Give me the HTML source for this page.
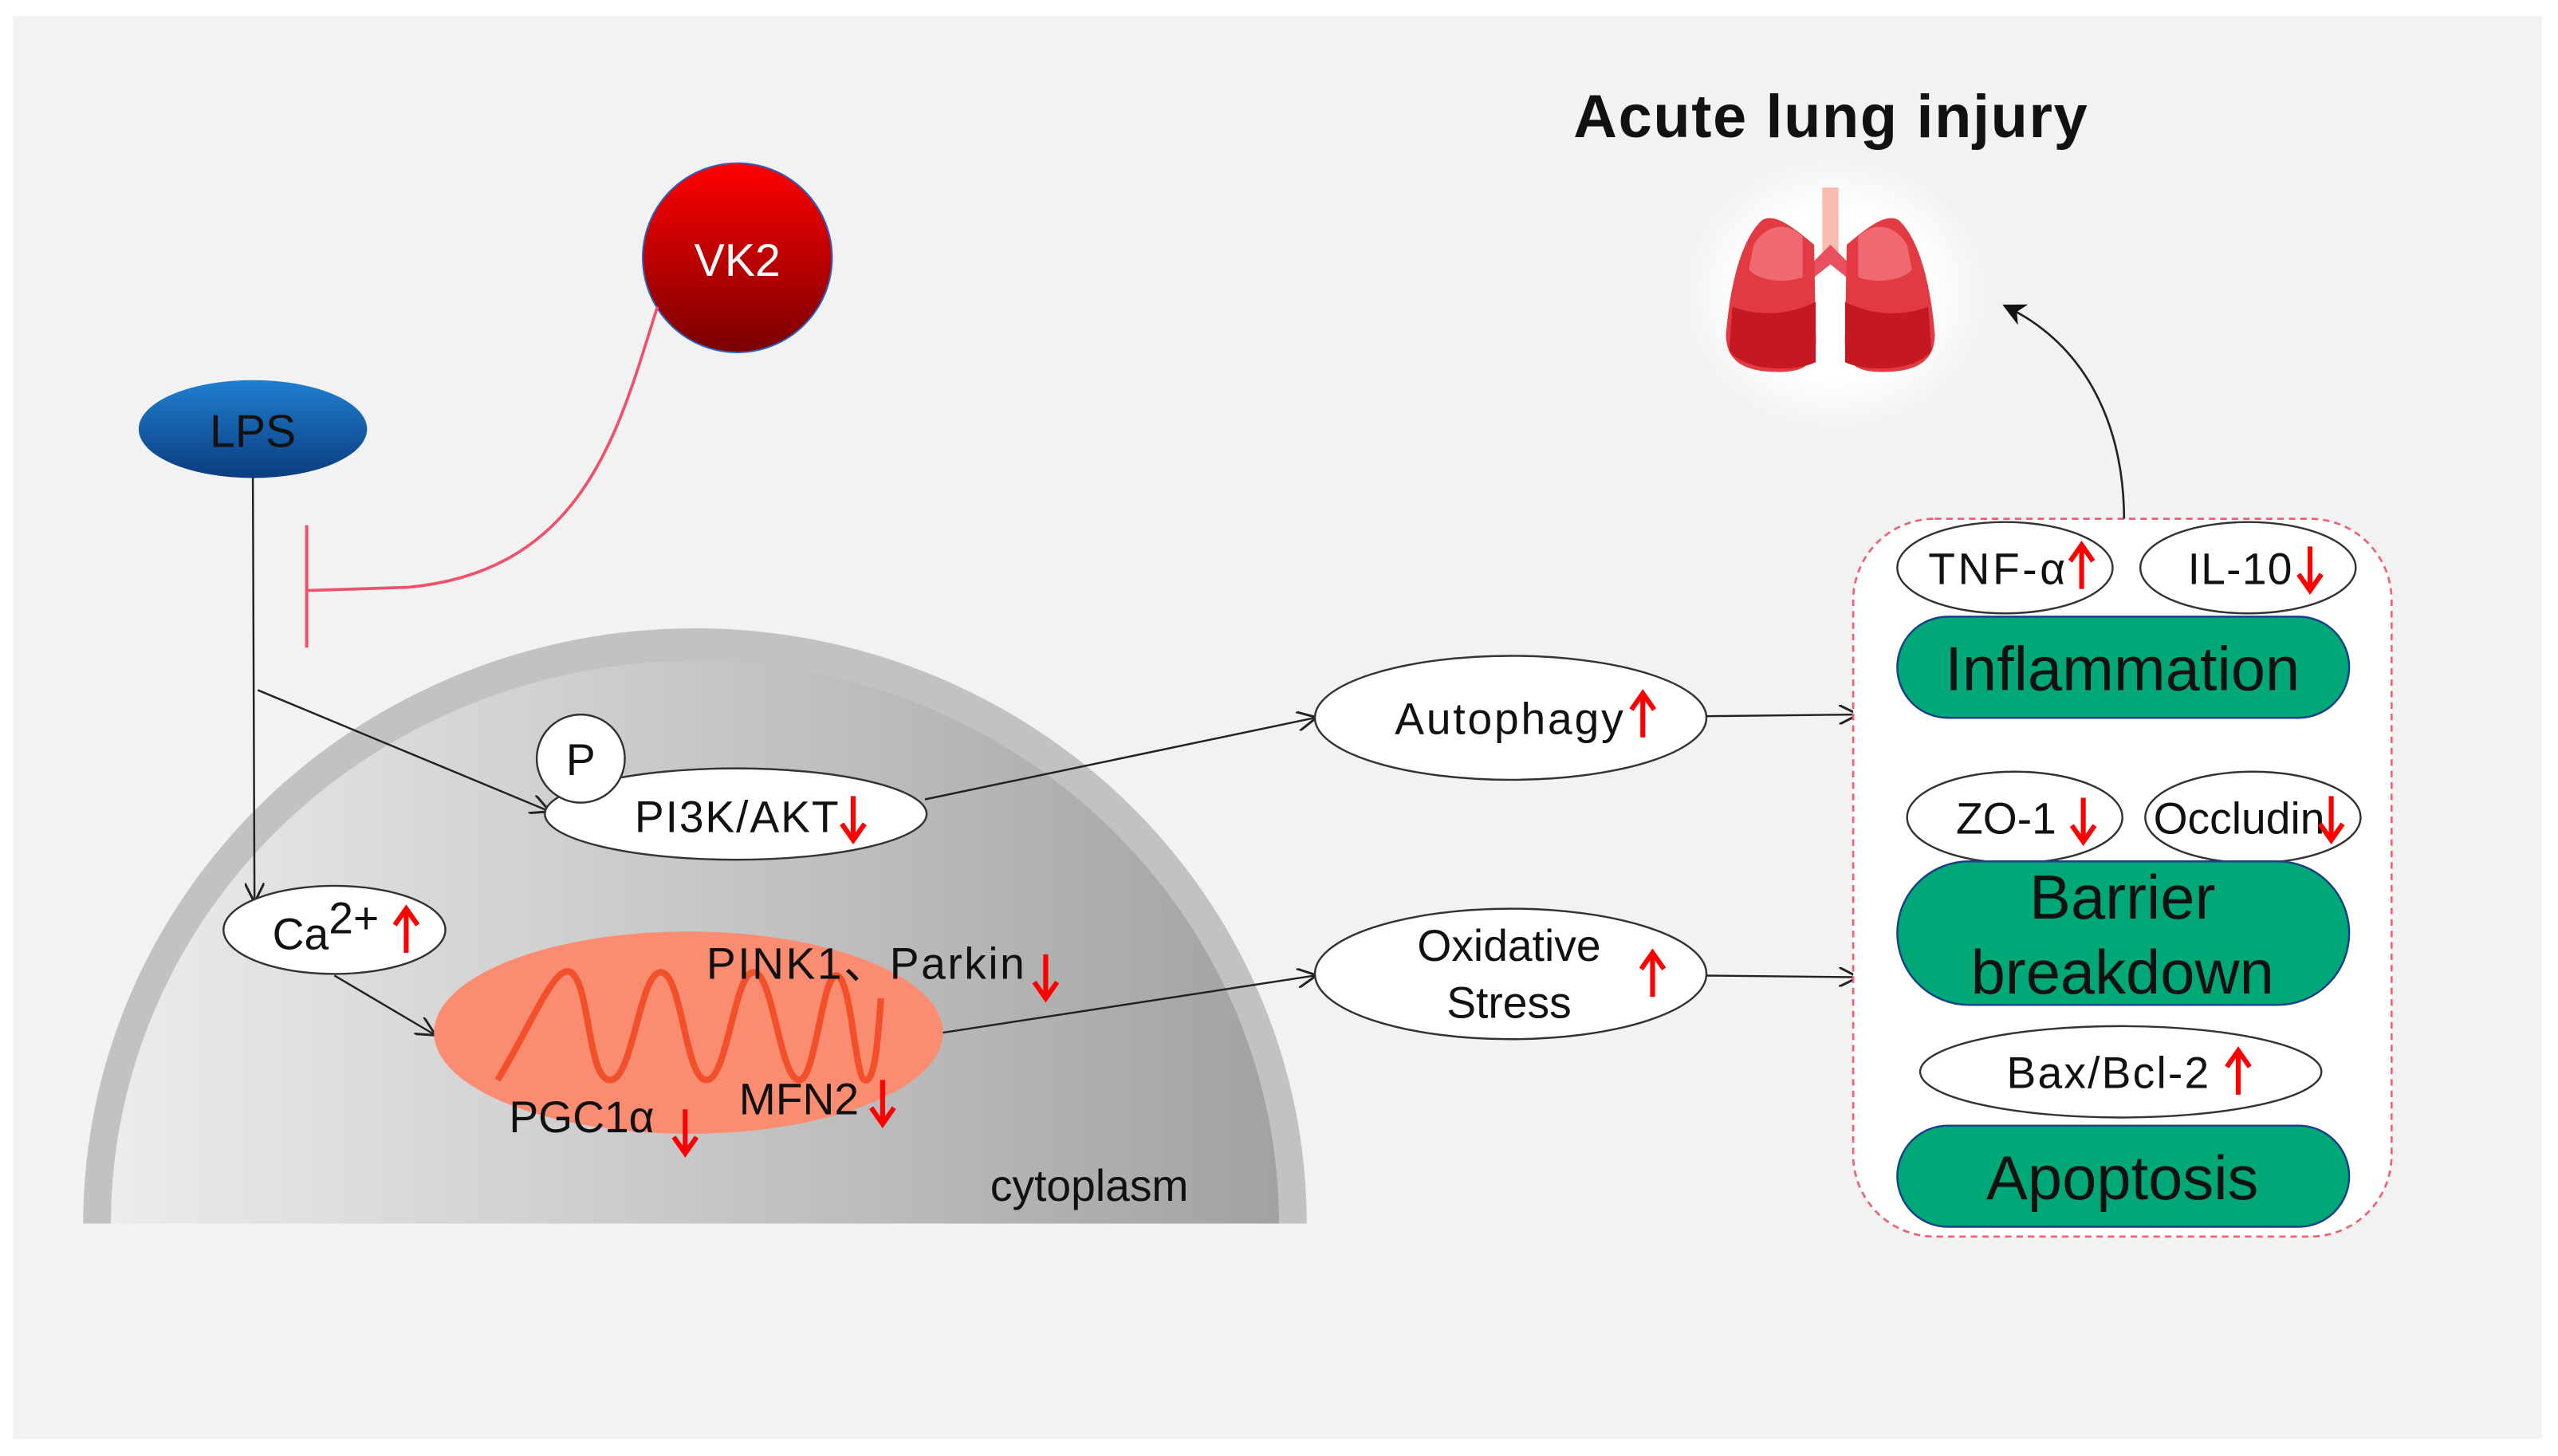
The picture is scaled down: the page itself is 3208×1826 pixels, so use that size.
<!DOCTYPE html>
<html><head><meta charset="utf-8"><style>
html,body{margin:0;padding:0;background:#fff}
svg{display:block}
text{font-family:"Liberation Sans",sans-serif;fill:#111}
</style></head><body>
<svg width="3208" height="1826" viewBox="0 0 1568 892.5" xmlns="http://www.w3.org/2000/svg">
<defs>
<linearGradient id="cyto" x1="0" x2="1" y1="0" y2="0"><stop offset="0" stop-color="#ececec"/><stop offset="1" stop-color="#a2a2a2"/></linearGradient>
<linearGradient id="lps" x1="0" x2="0" y1="0" y2="1"><stop offset="0" stop-color="#1f7fd0"/><stop offset="1" stop-color="#0b3c7e"/></linearGradient>
<linearGradient id="vk" x1="0" x2="0" y1="0" y2="1"><stop offset="0" stop-color="#ff0000"/><stop offset="1" stop-color="#7a0000"/></linearGradient>
<radialGradient id="glow"><stop offset="0.6" stop-color="#fff"/><stop offset="1" stop-color="#f2f2f2"/></radialGradient>
<marker id="ar" viewBox="0 0 10 10" refX="9" refY="5" markerWidth="12" markerHeight="12" markerUnits="userSpaceOnUse" orient="auto"><path d="M0,0 L10,5 L0,10" fill="none" stroke="#222" stroke-width="1.2"/></marker>
<marker id="ar2" viewBox="0 0 10 10" refX="8" refY="5" markerWidth="14" markerHeight="14" markerUnits="userSpaceOnUse" orient="auto"><path d="M0,0 L10,5 L0,10 L3,5z" fill="#111"/></marker>
<g id="up"><path d="M0,12 L0,-14" stroke="#f00" stroke-width="3"/><path d="M-7,-5 L0,-15 L7,-5" fill="none" stroke="#f00" stroke-width="3"/></g>
<g id="dn"><path d="M0,-14 L0,12" stroke="#f00" stroke-width="3"/><path d="M-7,3 L0,13 L7,3" fill="none" stroke="#f00" stroke-width="3"/></g>
</defs>
<rect x="0" y="0" width="1568" height="892.5" fill="#fff"/>
<rect x="8" y="10" width="1550" height="872" fill="#f2f2f2"/>
<!-- cytoplasm -->
<path d="M51,750 A375,365 0 0 1 801,750 Z" fill="#c2c2c2"/>
<path d="M68,750 A358,345 0 0 1 784,750 Z" fill="url(#cyto)"/>
<text x="607" y="736" font-size="27">cytoplasm</text>
<!-- LPS -->
<ellipse cx="155" cy="263" rx="70" ry="30" fill="url(#lps)"/>
<text x="155" y="274" font-size="28" text-anchor="middle" fill="#0a1a33">LPS</text>
<!-- VK2 -->
<circle cx="452" cy="158" r="58" fill="url(#vk)" stroke="#2a5fc0" stroke-width="1"/>
<text x="452" y="169" font-size="28" text-anchor="middle" style="fill:#fff">VK2</text>
<path d="M403,188 C380,260 360,350 250,360 L188,362" fill="none" stroke="#f0506a" stroke-width="1.8"/>
<path d="M188,322 L188,397" stroke="#f0506a" stroke-width="2"/>
<!-- LPS arrows -->
<path d="M155,293 L156,552" stroke="#222" stroke-width="1.2" fill="none" marker-end="url(#ar)"/>
<path d="M158,423 L336,497" stroke="#222" stroke-width="1.2" fill="none" marker-end="url(#ar)"/>
<!-- PI3K -->
<ellipse cx="451" cy="499" rx="117" ry="28" fill="#fff" stroke="#333" stroke-width="1.2"/>
<circle cx="356" cy="465" r="27" fill="#fff" stroke="#333" stroke-width="1.2"/>
<text x="356" y="475" font-size="27" text-anchor="middle">P</text>
<text x="389" y="510" font-size="27" textLength="125">PI3K/AKT</text>
<use href="#dn" x="523" y="502"/>
<!-- Ca -->
<ellipse cx="205" cy="570" rx="68" ry="27" fill="#fff" stroke="#333" stroke-width="1.2"/>
<text x="167" y="582" font-size="27">Ca<tspan dy="-10">2+</tspan></text>
<use href="#up" x="249" y="572"/>
<path d="M205,598 L266,634" stroke="#222" stroke-width="1.2" marker-end="url(#ar)"/>
<!-- mito -->
<ellipse cx="422" cy="633" rx="156" ry="62" fill="#fa8c72"/>
<path d="M305,662 C325,630 340,590 350,596 C362,604 360,662 374,662 C388,662 392,596 405,596 C418,596 420,662 433,662 C446,662 450,596 462,596 C474,596 478,662 490,662 C500,662 504,596 513,598 C522,600 524,660 530,662 C536,664 538,640 540,612" fill="none" stroke="#f2502a" stroke-width="4"/>
<text x="433" y="600" font-size="27" textLength="195">PINK1、Parkin</text>
<use href="#dn" x="641" y="599"/>
<text x="312" y="694" font-size="27">PGC1α</text>
<use href="#dn" x="420" y="694"/>
<text x="453" y="683" font-size="27">MFN2</text>
<use href="#dn" x="541" y="676"/>
<!-- mid -->
<path d="M567,490 L806,440" stroke="#222" stroke-width="1.2" marker-end="url(#ar)"/>
<path d="M578,633 L806,598" stroke="#222" stroke-width="1.2" marker-end="url(#ar)"/>
<ellipse cx="926" cy="440" rx="120" ry="38" fill="#fff" stroke="#333" stroke-width="1.2"/>
<text x="855" y="450" font-size="27" textLength="140">Autophagy</text>
<use href="#up" x="1007" y="440"/>
<ellipse cx="926" cy="597" rx="120" ry="40" fill="#fff" stroke="#333" stroke-width="1.2"/>
<text x="925" y="589" font-size="27" text-anchor="middle">Oxidative</text>
<text x="925" y="624" font-size="27" text-anchor="middle">Stress</text>
<use href="#up" x="1013" y="599"/>
<path d="M1046,439 L1138,438" stroke="#222" stroke-width="1.2" marker-end="url(#ar)"/>
<path d="M1046,598 L1138,599" stroke="#222" stroke-width="1.2" marker-end="url(#ar)"/>
<!-- box -->
<rect x="1136" y="318" width="330" height="440" rx="50" fill="#fff" stroke="#f06070" stroke-width="1.3" stroke-dasharray="4,3"/>
<ellipse cx="1229" cy="348" rx="66" ry="28" fill="#fff" stroke="#333" stroke-width="1.2"/>
<text x="1182" y="358" font-size="27" textLength="84">TNF-α</text>
<use href="#up" x="1276" y="349"/>
<ellipse cx="1378" cy="348" rx="66" ry="28" fill="#fff" stroke="#333" stroke-width="1.2"/>
<text x="1341" y="358" font-size="27" textLength="64">IL-10</text>
<use href="#dn" x="1416" y="349"/>
<rect x="1163" y="378" width="277" height="62" rx="31" fill="#00a878" stroke="#1a3f8a" stroke-width="1.2"/>
<text x="1301" y="423" font-size="38" text-anchor="middle">Inflammation</text>
<ellipse cx="1235" cy="501" rx="66" ry="28" fill="#fff" stroke="#333" stroke-width="1.2"/>
<text x="1199" y="511" font-size="27">ZO-1</text>
<use href="#dn" x="1277" y="503"/>
<ellipse cx="1381" cy="501" rx="66" ry="28" fill="#fff" stroke="#333" stroke-width="1.2"/>
<text x="1320" y="511" font-size="27" textLength="105">Occludin</text>
<use href="#dn" x="1429" y="502"/>
<rect x="1163" y="528" width="277" height="88" rx="44" fill="#00a878" stroke="#1a3f8a" stroke-width="1.2"/>
<text x="1301" y="563" font-size="38" text-anchor="middle">Barrier</text>
<text x="1301" y="609" font-size="38" text-anchor="middle">breakdown</text>
<ellipse cx="1300" cy="657" rx="123" ry="28" fill="#fff" stroke="#333" stroke-width="1.2"/>
<text x="1230" y="667" font-size="27" textLength="124">Bax/Bcl-2</text>
<use href="#up" x="1372" y="659"/>
<rect x="1163" y="690" width="277" height="62" rx="31" fill="#00a878" stroke="#1a3f8a" stroke-width="1.2"/>
<text x="1301" y="735" font-size="38" text-anchor="middle">Apoptosis</text>
<!-- top arrow -->
<path d="M1302,318 C1302,270 1285,215 1230,188" fill="none" stroke="#222" stroke-width="1.3" marker-end="url(#ar2)"/>
<!-- title -->
<text x="1122" y="84" font-size="37" font-weight="bold" text-anchor="middle" textLength="315">Acute lung injury</text>
<!-- lungs -->
<rect x="1030" y="95" width="190" height="170" rx="40" fill="url(#glow)"/>
<g>
<rect x="1117" y="115" width="10" height="40" fill="#f6a090" opacity="0.7"/>
<path d="M1114,158 L1122,150 L1130,158 L1138,166 L1132,170 L1122,162 L1112,170 L1106,166 Z" fill="#e85060"/>
<path d="M1112,150 C1100,140 1088,130 1080,135 C1066,148 1060,180 1058,205 C1058,222 1070,228 1090,228 C1108,228 1114,222 1113,205 Z" fill="#e23a42"/>
<path d="M1132,150 C1144,140 1156,130 1164,135 C1178,148 1184,180 1186,205 C1186,222 1174,228 1154,228 C1136,228 1130,222 1131,205 Z" fill="#e23a42"/>
<path d="M1062,188 C1080,195 1100,192 1113,185 L1113,222 C1100,228 1070,228 1060,215Z" fill="#c41822"/>
<path d="M1182,188 C1164,195 1144,192 1131,185 L1131,222 C1144,228 1174,228 1184,215Z" fill="#c41822"/>
<path d="M1075,150 C1082,138 1095,135 1105,145 L1105,170 C1090,175 1075,170 1072,165Z" fill="#f06870"/>
<path d="M1169,150 C1162,138 1149,135 1139,145 L1139,170 C1154,175 1169,170 1172,165Z" fill="#f06870"/>
</g>
</svg>
</body></html>
